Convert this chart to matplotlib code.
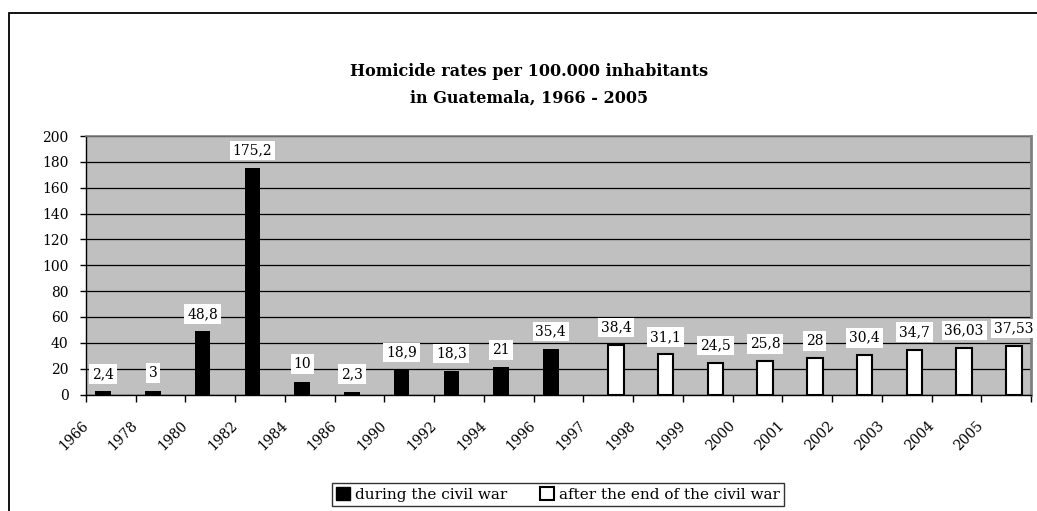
import numpy as np
import matplotlib
matplotlib.use("Agg")
import matplotlib.pyplot as plt
from matplotlib.patches import Patch, Rectangle
from matplotlib.transforms import ScaledTranslation

# Homicide rates per 100.000 inhabitants, Guatemala
years = ["1966", "1978", "1980", "1982", "1984", "1986", "1990", "1992", "1994", "1996",
         "1997", "1998", "1999", "2000", "2001", "2002", "2003", "2004", "2005"]
war_rates = [2.4, 3, 48.8, 175.2, 10, 2.3, 18.9, 18.3, 21, 35.4]
post_rates = [38.4, 31.1, 24.5, 25.8, 28, 30.4, 34.7, 36.03, 37.53]
y_ticks = [0, 20, 40, 60, 80, 100, 120, 140, 160, 180, 200]

plt.rcParams['font.family'] = ['DejaVu Serif']

W, H = 1037, 511
fig = plt.figure(figsize=(W / 100, H / 100), dpi=100)
ax = fig.add_axes([86 / W, 1 - 394.5 / H, 945 / W, 258.5 / H])
ax.set_facecolor('#C0C0C0')

bw = 0.31
x_war = np.arange(len(war_rates))
x_post = np.arange(len(war_rates), len(years))
ax.bar(x_war - bw / 2, war_rates, width=bw, color='black', zorder=3)
ax.bar(x_post + bw / 2, post_rates, width=bw, color='white', edgecolor='black',
       linewidth=1.5, zorder=3)

def fmt(v):
    return f"{v:g}".replace('.', ',')

for xs, vals in [(x_war - bw / 2, war_rates), (x_post + bw / 2, post_rates)]:
    for x, v in zip(xs, vals):
        ax.annotate(fmt(v), xy=(x, v), xytext=(0, 7.5), textcoords='offset points',
                    ha='center', va='bottom', fontsize=10, zorder=5,
                    bbox=dict(boxstyle='square,pad=0.2', facecolor='white', edgecolor='none'))

ax.set_xlim(-0.5, len(years) - 0.5)
ax.set_ylim(0, 200)
ax.set_yticks(y_ticks)
ax.set_yticklabels([str(t) for t in y_ticks], fontsize=10)
ax.set_xticks(np.arange(len(years) + 1) - 0.5)
ax.set_xticklabels(years + [''], rotation=45, ha='right', fontsize=10)
ax.tick_params(axis='x', direction='out', length=5, width=1, pad=12)
ax.tick_params(axis='y', direction='out', length=4.5, width=1, pad=8)
for lbl in ax.get_xticklabels():
    lbl.set_transform(lbl.get_transform() + ScaledTranslation(5 / 100, 0, fig.dpi_scale_trans))

ax.grid(axis='y', color='black', linewidth=0.9, zorder=1)
ax.set_axisbelow(True)
for s in ['left', 'bottom']:
    ax.spines[s].set_color('black')
    ax.spines[s].set_linewidth(1)
ax.spines['top'].set_color('#808080')
ax.spines['top'].set_linewidth(1.2)
ax.spines['right'].set_color('#808080')
ax.spines['right'].set_linewidth(2)

fig.text(0.51, 1 - 72 / H, 'Homicide rates per 100.000 inhabitants', ha='center', va='center',
         fontsize=11.5, fontweight='bold')
fig.text(0.51, 1 - 98 / H, 'in Guatemala, 1966 - 2005', ha='center', va='center',
         fontsize=11.5, fontweight='bold')

# outer chart frame, cut off at right and bottom
fig.patches.append(Rectangle((9 / W, -0.1), 1.2, 1.1 - 13 / H, transform=fig.transFigure,
                             fill=False, edgecolor='black', linewidth=1.3))

handles = [Patch(facecolor='black', edgecolor='black', label='during the civil war'),
           Patch(facecolor='white', edgecolor='black', linewidth=1.5, label='after the end of the civil war')]
leg = fig.legend(handles=handles, loc='center', bbox_to_anchor=(558 / W, 1 - 494.5 / H), ncol=2,
                 fontsize=11, frameon=True, fancybox=False, handlelength=0.9, handleheight=0.9,
                 handletextpad=0.3, columnspacing=2.2, borderpad=0.3, borderaxespad=0)
leg.get_frame().set_edgecolor('black')
leg.get_frame().set_linewidth(1)

fig.savefig('out.png', dpi=100, facecolor='white')
